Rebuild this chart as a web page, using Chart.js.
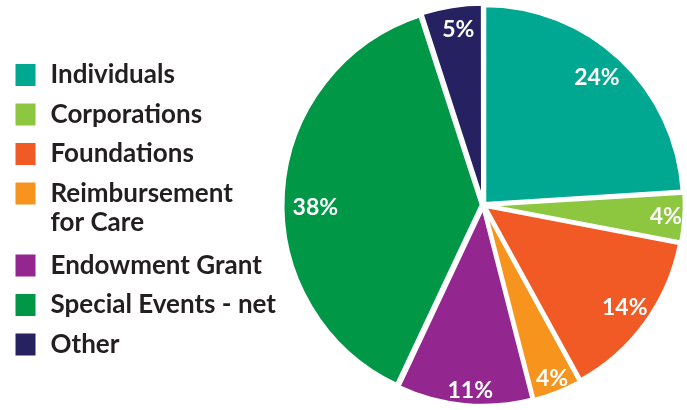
<!DOCTYPE html>
<html>
<head>
<meta charset="utf-8">
<script src="https://cdn.jsdelivr.net/npm/chart.js@4/dist/chart.umd.min.js"></script>
<style>
  html, body { margin: 0; padding: 0; background: #fff; }
  #wrap { width: 687px; height: 410px; position: relative; }
</style>
</head>
<body>
<div id="wrap"><canvas id="myChart"></canvas></div>
<script>
var categories = ['Individuals', 'Corporations', 'Foundations', ['Reimbursement', 'for Care'], 'Endowment Grant', 'Special Events - net', 'Other'];
var shares = [24, 4, 14, 4, 11, 38, 5];
var sliceColors = ['#00A891', '#8DC63F', '#F15A24', '#F7941D', '#93278F', '#009846', '#262261'];
// where each % label sits: fraction of radius, and a small turn in degrees
var labelPos = [0.86, 0.92, 0.88, 0.94, 0.935, 0.845, 0.89];
var labelTurn = [-1.5, 0, 0, 0, -1.4, -4.4, 0.9];

var pctLabels = {
  id: 'pctLabels',
  afterDatasetsDraw: function(chart) {
    var ctx = chart.ctx;
    var arcs = chart.getDatasetMeta(0).data;
    ctx.save();
    ctx.fillStyle = '#fff';
    ctx.font = 'bold 23px Lato';
    ctx.textAlign = 'center';
    ctx.textBaseline = 'middle';
    arcs.forEach(function(arc, i) {
      var p = arc.getProps(['x', 'y', 'startAngle', 'endAngle', 'outerRadius']);
      var mid = (p.startAngle + p.endAngle) / 2 + labelTurn[i] * Math.PI / 180;
      var r = p.outerRadius * labelPos[i];
      ctx.fillText(shares[i] + '%', p.x + Math.cos(mid) * r, p.y + Math.sin(mid) * r);
    });
    ctx.restore();
  }
};

var ctx = document.getElementById('myChart');
var myPie = new Chart(ctx, {
  type: 'pie',
  data: {
    labels: categories,
    datasets: [{
      data: shares,
      backgroundColor: sliceColors,
      borderColor: '#fff',
      borderWidth: 4,
      offset: 6,
      hoverOffset: 0
    }]
  },
  options: {
    responsive: true,
    maintainAspectRatio: false,
    animation: false,
    layout: { padding: { top: -2.5, bottom: -1.5, left: 0, right: -6.5 } },
    plugins: {
      tooltip: { enabled: false },
      legend: {
        position: 'left',
        maxWidth: 279.5,
        // empty title only used to nudge the list down
        title: { display: true, text: '', padding: 0, font: { size: 10, lineHeight: 1.05 } },
        labels: {
          boxWidth: 24,
          boxHeight: 26,
          padding: 13.5,
          color: '#231F20',
          font: { family: 'Lato', weight: 'bold', size: 26, lineHeight: 1.125 }
        }
      }
    }
  },
  plugins: [pctLabels]
});
</script>
</body>
</html>
